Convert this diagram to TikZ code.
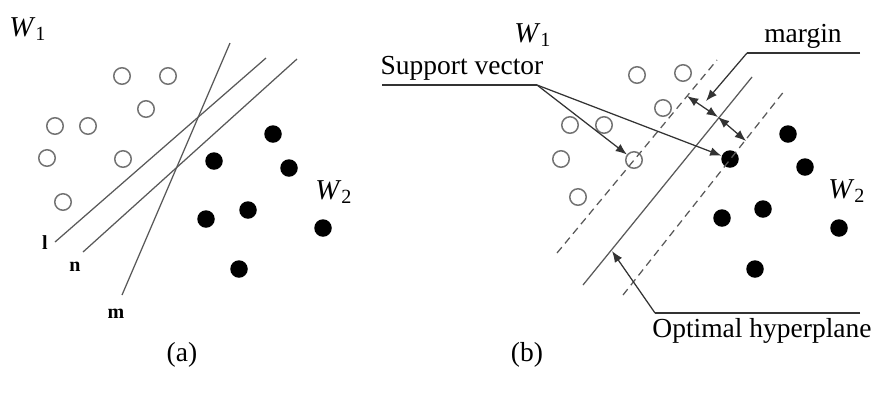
\documentclass[tikz,border=0pt]{standalone}
\usepackage{fontspec}
\setmainfont{Liberation Serif}
\usetikzlibrary{arrows.meta}

\def\dotsize{6.6pt}

\tikzset{
  opendot/.style={circle,draw=black!55,line width=0.6pt,minimum size=\dotsize,inner sep=0pt},
  fulldot/.style={circle,fill=black,minimum size=7pt,inner sep=0pt},
  sepline/.style={draw=black!65,line width=0.5pt},
  marginline/.style={sepline,dash pattern=on 3pt off 2pt},
  leader/.style={draw=black!80,line width=0.5pt},
  tip/.style={-{Latex[length=4.5pt,width=3.5pt]}},
  lbl/.style={font=\fontsize{11}{13}\selectfont,inner sep=1pt},
  small/.style={font=\fontsize{8}{10}\selectfont\bfseries,inner sep=1pt},
  cls/.style={font=\fontsize{11.5}{14}\selectfont,inner sep=1pt},
}

\begin{document}
\begin{tikzpicture}[x=0.4pt,y=-0.4pt]
    \useasboundingbox (0,0) rectangle (878,395);

    % panel (a)
    \node[cls] (wa1) at (28,29) {\textit{W}\textsubscript{1}};
    \node[cls] (wa2) at (334,192) {\textit{W}\textsubscript{2}};
    \foreach \i/\x/\y in {1/122/76,2/168/76,3/146/109,4/55/126,5/88/126,6/47/158,7/123/159,8/63/202} {
      \node[opendot] (ao\i) at (\x,\y) {};
    }
    \foreach \i/\x/\y in {1/273/134,2/214/161,3/289/168,4/206/219,5/248/210,6/323/228,7/239/269} {
      \node[fulldot] (af\i) at (\x,\y) {};
    }
    \coordinate (l0) at (55,242);  \coordinate (l1) at (266,58);
    \coordinate (n0) at (83,252);  \coordinate (n1) at (297,59);
    \coordinate (m0) at (122,295); \coordinate (m1) at (230,43);
    \draw[sepline] (l0) -- (l1);
    \draw[sepline] (n0) -- (n1);
    \draw[sepline] (m0) -- (m1);
    \node[small] (ll) at (45,243) {l};
    \node[small] (nl) at (75,267) {n};
    \node[small] (ml) at (116,314) {m};
    \node[lbl] (capa) at (182,355) {(a)};

    % panel (b)
    \node[cls] (wb1) at (533,35) {\textit{W}\textsubscript{1}};
    \node[cls] (wb2) at (847,191) {\textit{W}\textsubscript{2}};
    \foreach \i/\x/\y in {1/637/75,2/683/73,3/663/108,4/570/125,5/604/125,6/561/159,7/634/160,8/578/197} {
      \node[opendot] (bo\i) at (\x,\y) {};
    }
    \foreach \i/\x/\y in {1/788/134,2/805/167,3/730/159,4/722/218,5/763/209,6/839/228,7/755/269} {
      \node[fulldot] (bf\i) at (\x,\y) {};
    }
    \coordinate (dl0) at (557,253); \coordinate (dl1) at (717,60);
    \coordinate (hp0) at (583,285); \coordinate (hp1) at (752,77);
    \coordinate (dr0) at (623,295); \coordinate (dr1) at (785,90);
    \draw[marginline] (dl0) -- (dl1);
    \draw[sepline] (hp0) -- (hp1);
    \draw[marginline] (dr0) -- (dr1);

    % margin width
    \coordinate (mgl) at (687,96);
    \coordinate (mgc) at (718,117);
    \coordinate (mgr) at (746,141);
    \draw[leader,{Latex[length=4.5pt,width=3.5pt]}-{Latex[length=4.5pt,width=3.5pt]}] (mgl) -- (mgc);
    \draw[leader,{Latex[length=4.5pt,width=3.5pt]}-{Latex[length=4.5pt,width=3.5pt]}] (mgc) -- (mgr);

    \node[lbl,anchor=south] (mgt) at (803,51) {margin};
    \coordinate (mga) at (747,53);
    \coordinate (mgb) at (860,53);
    \draw[leader] (mgb) -- (mga);
    \draw[leader,tip] (mga) -- (706,101);

    \node[lbl,anchor=south] (svt) at (462,83) {Support vector};
    \coordinate (sva) at (382,85);
    \coordinate (svb) at (537,85);
    \draw[leader] (sva) -- (svb);
    \draw[leader,tip] (svb) -- (bo7);
    \draw[leader,tip] (svb) -- (bf3);

    \node[lbl,anchor=north] (oht) at (762,315) {Optimal hyperplane};
    \coordinate (oha) at (655,313);
    \coordinate (ohb) at (860,313);
    \coordinate (ohtip) at (612,251);
    \draw[leader] (ohb) -- (oha);
    \draw[leader,tip] (oha) -- (ohtip);

    \node[lbl] (capb) at (527,355) {(b)};
\end{tikzpicture}
\end{document}
